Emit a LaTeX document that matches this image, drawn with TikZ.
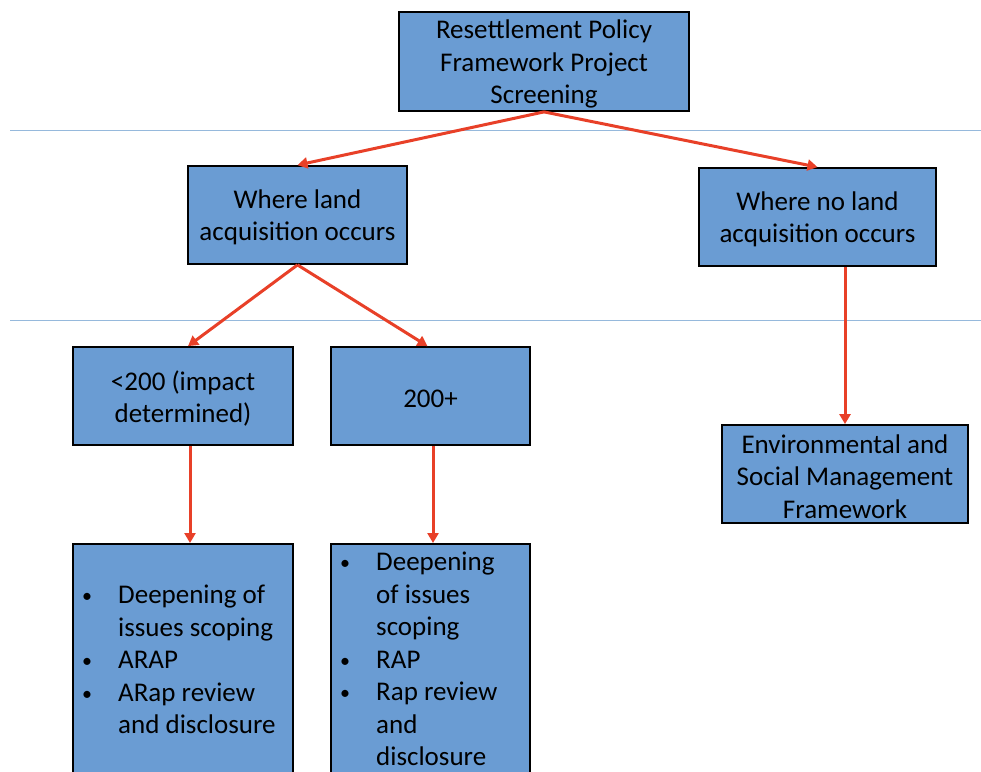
\documentclass[tikz,border=0pt]{standalone}
\usepackage{fontspec}
\setmainfont{Carlito}
\usetikzlibrary{arrows.meta}
\definecolor{boxfill}{RGB}{106,156,211}
\definecolor{arrowred}{RGB}{232,64,40}
\definecolor{seprule}{RGB}{150,185,220}
\tikzset{
  box/.style={draw=black, line width=1.8pt, fill=boxfill, inner sep=0pt},
  boxtext/.style={align=center, inner sep=0pt, yshift=-2.5pt,
    font=\fontsize{27}{32.5}\selectfont},
  btext/.style={label={[boxtext]center:{#1}}},
  txt/.style={align=left, inner sep=0pt, anchor=north west,
    font=\fontsize{27}{32.5}\selectfont},
  arr/.style={draw=arrowred, line width=3pt, -{Triangle[length=10pt,width=11pt]}},
  sepline/.style={draw=seprule, line width=1pt}
}
\newcommand{\bitem}[1]{\makebox[36pt][l]{\raisebox{1pt}{\fontsize{20}{20}\selectfont\textbullet}}#1}
\newcommand{\bcont}[1]{\hspace*{36pt}#1}
\begin{document}
\begin{tikzpicture}[x=1pt,y=-1pt]
\useasboundingbox (0,0) rectangle (981,771);
\clip (0,0) rectangle (981,771);
\draw[sepline] (10,130) -- (981,130);
\draw[sepline] (10,320) -- (981,320);

\node[box, minimum width=290pt, minimum height=99pt,
  btext={Resettlement Policy\\Framework Project\\Screening}] (top) at (544,61.5) {};
\node[box, minimum width=219pt, minimum height=98pt,
  btext={Where land\\acquisition occurs}] (lm) at (297.5,215) {};
\node[box, minimum width=237pt, minimum height=98pt,
  btext={Where no land\\acquisition occurs}] (rm) at (817.5,217) {};
\node[box, minimum width=220pt, minimum height=98pt,
  btext={<200 (impact\\determined)}] (lt) at (183,396) {};
\node[box, minimum width=199pt, minimum height=98pt,
  btext={200+}] (mp) at (430.5,396) {};
\node[box, minimum width=246pt, minimum height=98pt,
  btext={Environmental and\\Social Management\\Framework}] (esmf) at (845,474) {};
\node[box, minimum width=220pt, minimum height=260pt, anchor=north] (bl) at (183,543) {};
\node[box, minimum width=199pt, minimum height=260pt, anchor=north] (bm) at (430.5,543) {};

\node[txt] (bltext) at (82,585)
  {\bitem{Deepening of}\\\bcont{issues scoping}\\\bitem{ARAP}\\\bitem{ARap review}\\\bcont{and disclosure}};
\node[txt] (bmtext) at (340,552)
  {\bitem{Deepening}\\\bcont{of issues}\\\bcont{scoping}\\\bitem{RAP}\\\bitem{Rap review}\\\bcont{and}\\\bcont{disclosure}};

\draw[arr] (top.south) -- (lm.north);
\draw[arr] (top.south) -- (rm.north);
\draw[arr] (lm.south) -- ([xshift=5pt]lt.north);
\draw[arr] (lm.south) -- ([xshift=-3pt]mp.north);
\draw[arr] ([xshift=7pt]lt.south) -- ([xshift=7pt]bl.north);
\draw[arr] ([xshift=2.5pt]mp.south) -- ([xshift=2.5pt]bm.north);
\draw[arr] (rm.south -| esmf.north) -- (esmf.north);
\end{tikzpicture}
\end{document}
